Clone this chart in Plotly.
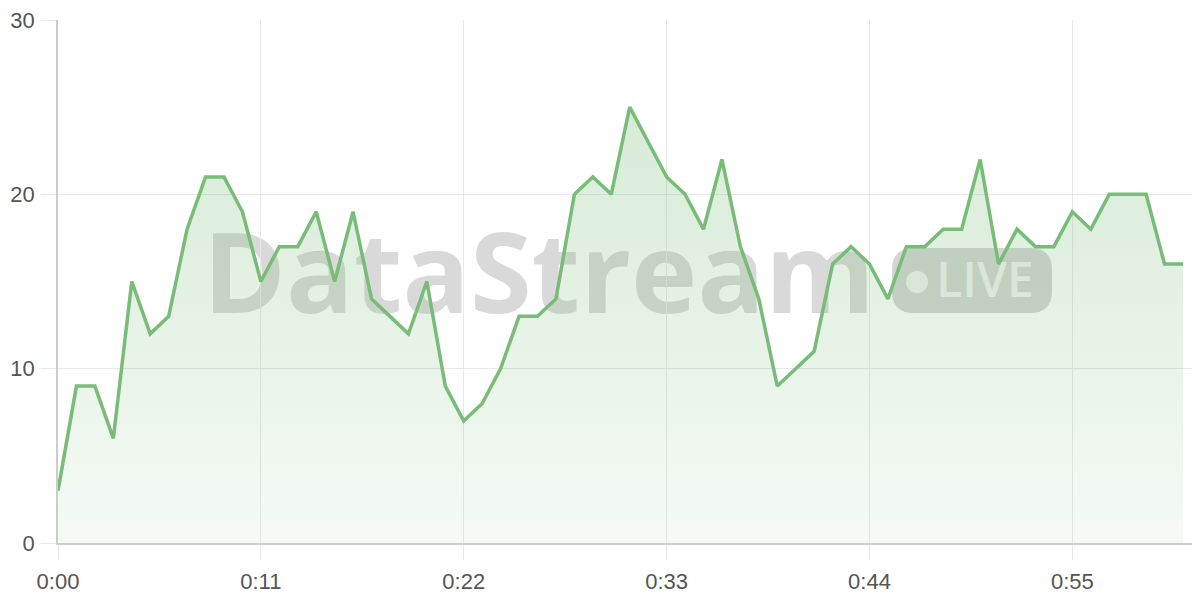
import plotly.graph_objects as go

# ---- data ----
seconds = list(range(62))
values = [3, 9, 9, 6, 15, 12, 13, 18, 21, 21,
          19, 15, 17, 17, 19, 15, 19, 14, 13, 12,
          15, 9, 7, 8, 10, 13, 13, 14, 20, 21,
          20, 25, 23, 21, 20, 18, 22, 17, 14, 9,
          10, 11, 16, 17, 16, 14, 17, 17, 18, 18,
          22, 16, 18, 17, 17, 19, 18, 20, 20, 20,
          16, 16]
x_tick_vals = [0, 11, 22, 33, 44, 55]
x_tick_text = ["0:00", "0:11", "0:22", "0:33", "0:44", "0:55"]
y_tick_vals = [0, 10, 20, 30]
y_tick_text = ["0", "10", "20", "30"]

# ---- geometry (pixels) ----
W, H = 1200, 600
OFF = 8  # page body margin
ML, MR, MT, MB = 50, 0, 12, 65
PW, PH = W - ML - MR, H - MT - MB
SEC_PX = (1183 - 58) / 61

def px(x):
    return (x - OFF - ML) / PW

def py(y):
    return 1 - (y - OFF - MT) / PH

line_color = "rgb(120,188,120)"

fig = go.Figure()
fig.add_trace(go.Scatter(
    x=seconds, y=values, mode="lines",
    line=dict(color=line_color, width=3.5),
    fill="tozeroy",
    fillgradient=dict(
        type="vertical",
        start=0, stop=25,
        colorscale=[[0, "rgba(120,188,120,0.07)"], [1, "rgba(120,188,120,0.30)"]],
    ),
    hoverinfo="skip",
    showlegend=False,
))

shapes = []
# watermark text "DataStream"
shapes.append(dict(
    type="rect", xref="paper", yref="paper", layer="below",
    x0=px(189), x1=px(889), y0=py(337), y1=py(217),
    line=dict(width=0), fillcolor="rgba(0,0,0,0)",
    label=dict(text="DataStream", textposition="middle center",
               font=dict(family="Open Sans", size=112, weight=700, color="rgba(0,0,0,0.15)")),
))
# LIVE pill
x0, x1, y0, y1 = 892, 1052, 248, 313
r = 22
rx, ry = r / PW, r / PH
X0, X1, Y0, Y1 = px(x0), px(x1), py(y1), py(y0)
path = (f"M {X0+rx},{Y0} L {X1-rx},{Y0} Q {X1},{Y0} {X1},{Y0+ry} "
        f"L {X1},{Y1-ry} Q {X1},{Y1} {X1-rx},{Y1} L {X0+rx},{Y1} "
        f"Q {X0},{Y1} {X0},{Y1-ry} L {X0},{Y0+ry} Q {X0},{Y0} {X0+rx},{Y0} Z")
shapes.append(dict(type="path", xref="paper", yref="paper", layer="below",
                   path=path, line=dict(width=0), fillcolor="rgba(0,0,0,0.17)"))
# dot
shapes.append(dict(type="circle", xref="paper", yref="paper", layer="below",
                   x0=px(906), x1=px(928), y0=py(293), y1=py(271),
                   line=dict(width=0), fillcolor="rgba(255,255,255,0.7)"))
# LIVE text
shapes.append(dict(
    type="rect", xref="paper", yref="paper", layer="below",
    x0=px(933), x1=px(1037), y0=py(306), y1=py(256),
    line=dict(width=0), fillcolor="rgba(0,0,0,0)",
    label=dict(text="LIVE", textposition="middle center",
               font=dict(family="Open Sans", size=48, weight=600, color="rgba(255,255,255,0.72)")),
))

fig.update_layout(
    width=W, height=H,
    margin=dict(l=ML, r=MR, t=MT, b=MB),
    paper_bgcolor="white", plot_bgcolor="white",
    shapes=shapes,
    font=dict(family="Liberation Sans, Arial", color="#555555"),
    xaxis=dict(
        range=[0, PW / SEC_PX],
        tickvals=x_tick_vals, ticktext=x_tick_text,
        showgrid=True, gridcolor="#e8e8e8", gridwidth=1,
        showline=True, linecolor="#cccccc", linewidth=1.5,
        ticks="outside", ticklen=15, tickcolor="#e8e8e8", tickwidth=1,
        tickfont=dict(size=22, color="#555555"),
        ticklabelstandoff=3,
        ticklabeloverflow="allow",
        zeroline=False, fixedrange=True,
    ),
    yaxis=dict(
        range=[0, 30],
        tickvals=y_tick_vals, ticktext=y_tick_text,
        showgrid=True, gridcolor="#e8e8e8", gridwidth=1,
        showline=True, linecolor="#cccccc", linewidth=1.5,
        ticks="outside", ticklen=15, tickcolor="#e8e8e8", tickwidth=1,
        tickfont=dict(size=22, color="#555555"),
        ticklabelstandoff=2,
        ticklabeloverflow="allow",
        zeroline=False, fixedrange=True,
    ),
)

fig.write_html("out.html")
